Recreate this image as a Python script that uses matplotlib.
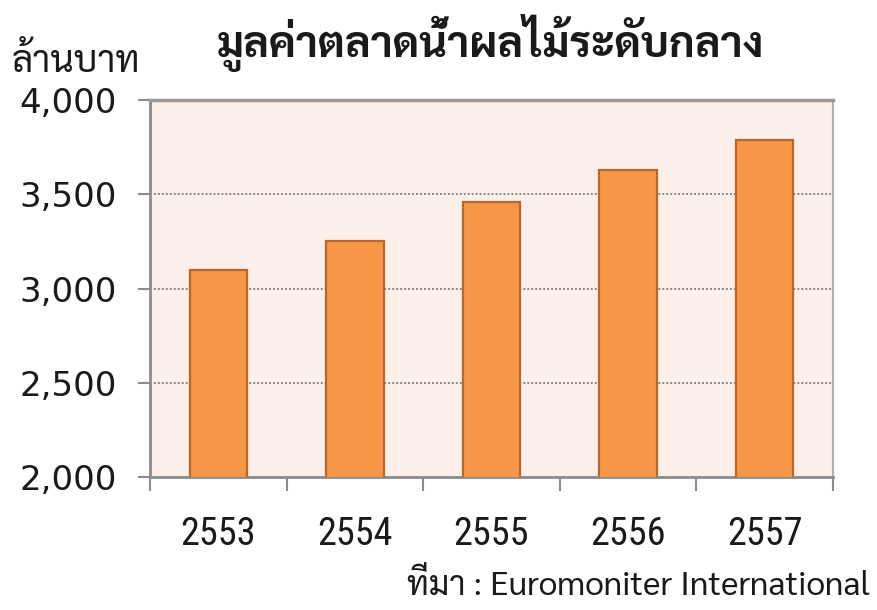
import matplotlib
matplotlib.use("Agg")
import matplotlib.pyplot as plt
from matplotlib.ticker import FuncFormatter, FixedLocator

years = ["2553", "2554", "2555", "2556", "2557"]
values = [3100, 3250, 3460, 3630, 3790]
title = "มูลค่าตลาดน้ำผลไม้ระดับกลาง"
unit_label = "ล้านบาท"
source = "ที่มา : Euromoniter International"

fig = plt.figure(figsize=(8.78, 6.10), dpi=100)
ax = fig.add_axes([150/878, 1-477/610, (833-150)/878, (477-100)/610])
ax.set_facecolor("#FCEEE8")

x = list(range(len(years)))
ax.bar(x, values, width=0.42, color="#F79646", edgecolor="#B8682A", linewidth=1.6, zorder=3)

ax.set_xlim(-0.5, len(years) - 0.5)
ax.set_ylim(2000, 4000)
ax.set_yticks([2000, 2500, 3000, 3500, 4000])
ax.yaxis.set_major_formatter(FuncFormatter(lambda v, p: f"{int(v):,}"))
ax.grid(axis="y", color="#7A7A7A", linestyle=(0, (1.0, 1.2)), linewidth=1.3, zorder=1)

ax.set_xticks(x)
ax.set_xticklabels(years, fontsize=27.5,
                   family=["Liberation Sans Narrow", "Roboto Condensed", "Open Sans Condensed", "DejaVu Sans"],
                   stretch="condensed", color="#1A1A1A")
ax.tick_params(axis="x", which="major", length=0, pad=28)
ax.xaxis.set_minor_locator(FixedLocator([i + 0.5 for i in range(-1, len(years))]))
ax.tick_params(axis="x", which="minor", length=10, width=1.5, color="#8C8C8C", direction="out")
ax.tick_params(axis="y", length=9, width=1.5, color="#8C8C8C", labelsize=24.5, pad=15, labelcolor="#1A1A1A")
for lab in ax.get_yticklabels():
    lab.set_family("DejaVu Sans")

for side in ["left", "bottom"]:
    ax.spines[side].set_color("#8C8C8C")
    ax.spines[side].set_linewidth(2)
ax.spines["top"].set_color("#9A9A9A")
ax.spines["top"].set_linewidth(2.5)
ax.spines["right"].set_color("#B0B0B0")
ax.spines["right"].set_linewidth(1.5)

fig.text(490/878, 1-43/610, title, ha="center", va="center", fontsize=31,
         fontweight="bold", family=["Sarabun", "DejaVu Sans"], color="#1A1A1A")
fig.text(12/878, 1-62/610, unit_label, ha="left", va="center", fontsize=26.5,
         family=["Sarabun", "DejaVu Sans"], color="#1A1A1A")
fig.text(870/878, 1-586/610, source, ha="right", va="center", fontsize=24,
         family=["Sarabun", "DejaVu Sans"], color="#1A1A1A")

fig.savefig("out.png", dpi=100)
